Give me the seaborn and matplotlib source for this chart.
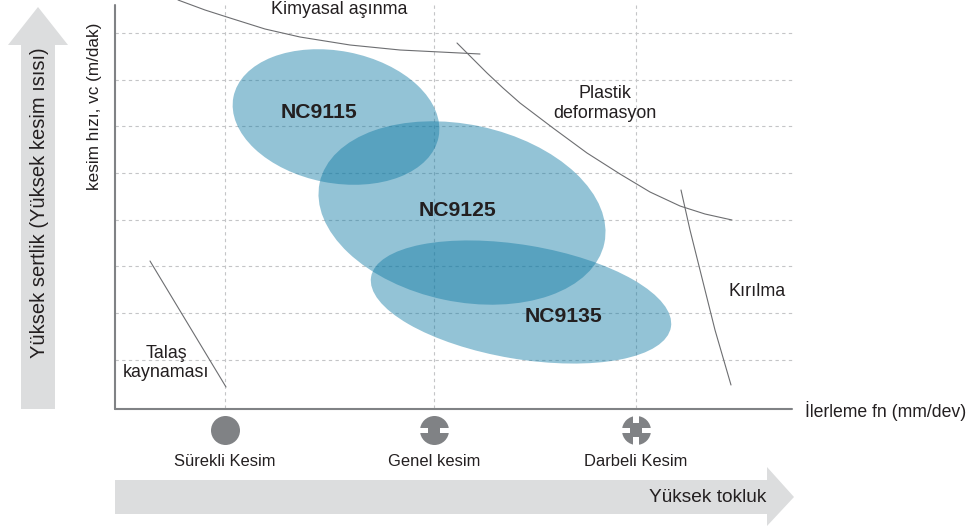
import matplotlib
matplotlib.use("Agg")
import matplotlib.pyplot as plt
import seaborn as sns
from matplotlib.patches import Ellipse, Rectangle

sns.set_theme(style="white")
plt.rcParams['font.family'] = ['Liberation Sans', 'DejaVu Sans']

# everything in its pixel units
grid_y = [33, 80, 126, 173, 220, 266, 313, 360]
grid_x = [225, 434, 636]

grade_names = ["NC9115", "NC9125", "NC9135"]
grade_x = [336, 462, 521]
grade_y = [117, 213, 302]
grade_w = [209, 291, 304]
grade_h = [132, 177, 114]
grade_tilt = [11, 12, 9.5]
grade_label_x = [319, 458, 564]
grade_label_y = [113, 210, 317]

wear_x = [[178, 205, 230, 265, 300, 350, 400, 440, 480],
          [457, 472, 487, 503, 520, 553, 587, 620, 650, 680, 705, 732],
          [681, 690, 700, 715, 731],
          [150, 226]]
wear_y = [[0, 10, 18, 29, 37, 45, 50, 52, 54],
          [43, 58, 73, 88, 103, 128, 153, 174, 192, 206, 214, 220],
          [190, 230, 270, 330, 385],
          [261, 387]]
wear_labels = ["Kimyasal aşınma", "Plastik\ndeformasyon", "Kırılma", "Talaş\nkaynaması"]
wear_label_x = [339, 605, 757, 166]
wear_label_y = [9.5, 103.5, 291, 363]

cut_names = ["Sürekli Kesim", "Genel kesim", "Darbeli Kesim"]
cut_y = 430

up_arrow_x = [38, 68, 55, 55, 21, 21, 8]
up_arrow_y = [7, 45, 45, 409, 409, 45, 45]
right_arrow_x = [115, 767, 767, 794, 767, 767, 115]
right_arrow_y = [480, 480, 467, 497, 526, 514, 514]

GREY = "#808285"
ARROW = "#dcddde"
TEXT = "#231f20"

fig = plt.figure(figsize=(9.69, 5.30), dpi=100)
ax = fig.add_axes([0, 0, 1, 1])
ax.set_xlim(0, 969)
ax.set_ylim(530, 0)
ax.axis("off")

# big grey arrows
ax.fill(up_arrow_x, up_arrow_y, color=ARROW, lw=0)
ax.fill(right_arrow_x, right_arrow_y, color=ARROW, lw=0)

# dashed grid
for y in grid_y:
    ax.plot([115, 792], [y, y], color="#c4c5c7", lw=0.8, ls=(0, (3, 3)), zorder=1)
for x in grid_x:
    ax.plot([x, x], [5, 409], color="#c4c5c7", lw=0.8, ls=(0, (3, 3)), zorder=1)

# axes lines
ax.plot([115, 115], [5, 409], color=GREY, lw=1.5, zorder=2)
ax.plot([115, 792], [409, 409], color=GREY, lw=1.5, zorder=2)

# grade ellipses
for i in range(len(grade_names)):
    ax.add_patch(Ellipse((grade_x[i], grade_y[i]), grade_w[i], grade_h[i], angle=grade_tilt[i],
                         facecolor="#107aa4", alpha=0.45, lw=0, zorder=3))
    ax.text(grade_label_x[i], grade_label_y[i], grade_names[i], fontsize=15.2, fontweight="bold",
            color=TEXT, ha="center", va="center", zorder=6)

# wear limit curves
for xs, ys in zip(wear_x, wear_y):
    sns.lineplot(x=xs, y=ys, ax=ax, sort=False, estimator=None, color="#6d6e71", lw=0.8, zorder=4)
for i in range(len(wear_labels)):
    ax.text(wear_label_x[i], wear_label_y[i], wear_labels[i], fontsize=12.9, color=TEXT,
            ha="center", va="center", linespacing=1.18, zorder=6)

# cutting condition icons
sns.scatterplot(x=grid_x, y=[cut_y] * 3, ax=ax, s=436, color=GREY, linewidth=0, zorder=4, legend=False)
for x in grid_x[1:]:
    ax.add_patch(Rectangle((x - 16, cut_y - 2.5), 10, 5, color="white", lw=0, zorder=5))
    ax.add_patch(Rectangle((x + 6, cut_y - 2.5), 10, 5, color="white", lw=0, zorder=5))
x = grid_x[2]
ax.add_patch(Rectangle((x - 3, cut_y - 16), 6, 9, color="white", lw=0, zorder=5))
ax.add_patch(Rectangle((x - 3, cut_y + 7), 6, 9, color="white", lw=0, zorder=5))
for x, name in zip(grid_x, cut_names):
    ax.text(x, 461, name, fontsize=11.9, color=TEXT, ha="center", va="center")

# axis titles
ax.text(886, 411, "İlerleme fn (mm/dev)", fontsize=12.7, color=TEXT, ha="center", va="center")
ax.text(708, 498, "Yüksek tokluk", fontsize=13.8, color=TEXT, ha="center", va="center", zorder=6)
ax.text(40, 203, "Yüksek sertlik (Yüksek kesim ısısı)", fontsize=14.5, color=TEXT, rotation=90,
        ha="center", va="center")
ax.text(94.5, 106, "kesim hızı, vc (m/dak)", fontsize=12.3, color=TEXT, rotation=90,
        ha="center", va="center")

fig.savefig("out.png", dpi=100)
